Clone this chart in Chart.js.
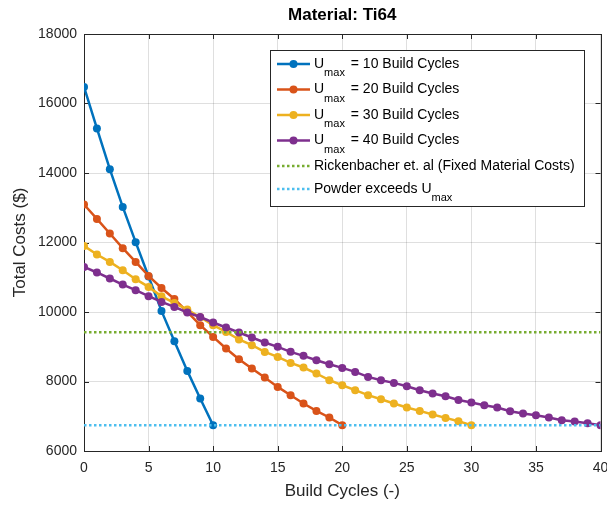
<!DOCTYPE html>
<html>
<head>
<meta charset="utf-8">
<script src="https://cdn.jsdelivr.net/npm/chart.js@4.4.0/dist/chart.umd.min.js"></script>
<style>
  html, body { margin: 0; padding: 0; background: #fff; }
  #wrap { width: 607px; height: 506px; position: relative; }
</style>
</head>
<body>
<div id="wrap"><canvas id="costChart"></canvas></div>
<script>
// Material: Ti64 - total costs vs build cycles

const chartTitle = 'Material: Ti64';
const xTitle = 'Build Cycles (-)';
const yTitle = 'Total Costs ($)';

const xTicks = [0, 5, 10, 15, 20, 25, 30, 35, 40];
const yTicks = [6000, 8000, 10000, 12000, 14000, 16000, 18000];

// legend labels, {..} marks a subscript
const seriesLabels = [
    'U{max} = 10 Build Cycles',
    'U{max} = 20 Build Cycles',
    'U{max} = 30 Build Cycles',
    'U{max} = 40 Build Cycles',
    'Rickenbacher et. al (Fixed Material Costs)',
    'Powder exceeds U{max}'
];

const costs10 = [16478, 15281, 14109, 13024, 12009, 11022, 10032, 9160, 8305, 7511, 6743];
const costs20 = [13094, 12679, 12259, 11836, 11442, 11039, 10690, 10374, 10003, 9620,
    9283, 8950, 8642, 8374, 8115, 7845, 7606, 7367, 7154, 6964, 6743];
const costs30 = [11902, 11655, 11442, 11203, 10944, 10722, 10450, 10260, 10070, 9850,
    9620, 9427, 9209, 9045, 8852, 8708, 8535, 8403, 8230, 8037,
    7893, 7750, 7606, 7491, 7367, 7252, 7154, 7050, 6953, 6858, 6743];
const costs40 = [11298, 11137, 10964, 10791, 10627, 10455, 10291, 10147, 9986, 9855,
    9698, 9554, 9410, 9266, 9122, 8998, 8854, 8739, 8613, 8498,
    8391, 8276, 8132, 8037, 7960, 7865, 7750, 7655, 7577, 7470,
    7396, 7318, 7252, 7146, 7079, 7030, 6964, 6886, 6850, 6800, 6743];

const fixedMaterialCost = 9420;
const powderLimitCost = 6743;
const lineRange = [0, 40];

const colors = ['#0072BD', '#D95319', '#EDB120', '#7E2F8E', '#77AC30', '#4DBEEE'];
const axisColor = '#262626';
const fontFamily = '"Liberation Sans", Arial, sans-serif';

function toPoints(arr) {
    return arr.map((v, i) => ({ x: i, y: v }));
}

function markerSeries(label, data, color, order) {
    return {
        label,
        data: toPoints(data),
        borderColor: color,
        backgroundColor: color,
        borderWidth: 2.5,
        pointRadius: 4,
        pointHoverRadius: 4,
        pointBorderWidth: 0,
        tension: 0,
        order
    };
}

function refLine(label, value, color, order) {
    return {
        label,
        data: lineRange.map(x => ({ x, y: value })),
        borderColor: color,
        borderWidth: 2.5,
        borderDash: [2.5, 2.5],
        pointRadius: 0,
        order,
        isRef: true
    };
}

// box, inward ticks, title and legend drawn the MATLAB way
const matlabFrame = {
    id: 'matlabFrame',
    beforeDatasetsDraw(chart) {
        const { ctx, chartArea: a, scales } = chart;
        ctx.save();
        ctx.strokeStyle = axisColor;
        ctx.lineWidth = 1;
        ctx.beginPath();
        xTicks.forEach(t => {
            const px = Math.round(scales.x.getPixelForValue(t)) + 0.5;
            ctx.moveTo(px, a.bottom); ctx.lineTo(px, a.bottom - 5);
            ctx.moveTo(px, a.top); ctx.lineTo(px, a.top + 5);
        });
        yTicks.forEach(t => {
            const py = Math.round(scales.y.getPixelForValue(t)) + 0.5;
            ctx.moveTo(a.left, py); ctx.lineTo(a.left + 5, py);
            ctx.moveTo(a.right, py); ctx.lineTo(a.right - 5, py);
        });
        ctx.stroke();
        ctx.strokeRect(Math.round(a.left) + 0.5, Math.round(a.top) + 0.5,
            Math.round(a.right - a.left), Math.round(a.bottom - a.top));
        ctx.restore();
    },
    afterDraw(chart) {
        const { ctx, chartArea: a } = chart;
        ctx.save();
        // title
        ctx.fillStyle = '#000';
        ctx.font = 'bold 17px ' + fontFamily;
        ctx.textAlign = 'center';
        ctx.textBaseline = 'middle';
        ctx.fillText(chartTitle, (a.left + a.right) / 2, 15);

        // legend
        const box = { x: 270.5, y: 50.5, w: 314, h: 156 };
        ctx.fillStyle = '#fff';
        ctx.fillRect(box.x, box.y, box.w, box.h);
        ctx.strokeStyle = axisColor;
        ctx.lineWidth = 1;
        ctx.strokeRect(box.x, box.y, box.w, box.h);

        const rowY = [64, 89.5, 115, 140.5, 166, 189];
        chart.data.datasets.forEach((ds, i) => {
            const y = rowY[i];
            const x0 = 277, x1 = 310;
            ctx.strokeStyle = ds.borderColor;
            ctx.lineWidth = 2.5;
            ctx.setLineDash(ds.borderDash || []);
            ctx.beginPath();
            ctx.moveTo(x0, y); ctx.lineTo(x1, y);
            ctx.stroke();
            ctx.setLineDash([]);
            if (!ds.isRef) {
                ctx.fillStyle = ds.backgroundColor;
                ctx.beginPath();
                ctx.arc((x0 + x1) / 2, y, 4, 0, Math.PI * 2);
                ctx.fill();
            }
            // text with subscript
            const m = ds.label.match(/^(.*?)\{(.*?)\}(.*)$/);
            const parts = m ? [[m[1], 0], [m[2], 1], [m[3], 0]] : [[ds.label, 0]];
            let tx = 314;
            ctx.fillStyle = '#000';
            ctx.textAlign = 'left';
            ctx.textBaseline = 'middle';
            parts.forEach(([txt, sub]) => {
                if (!txt) return;
                ctx.font = (sub ? '11px ' : '14px ') + fontFamily;
                ctx.fillText(txt, tx, sub ? y + 9 : y);
                tx += ctx.measureText(txt).width + (sub ? 2 : 0);
            });
        });
        ctx.restore();
    }
};

new Chart(document.getElementById('costChart'), {
    type: 'line',
    data: {
        datasets: [
            markerSeries(seriesLabels[0], costs10, colors[0], 6),
            markerSeries(seriesLabels[1], costs20, colors[1], 5),
            markerSeries(seriesLabels[2], costs30, colors[2], 4),
            markerSeries(seriesLabels[3], costs40, colors[3], 3),
            refLine(seriesLabels[4], fixedMaterialCost, colors[4], 2),
            refLine(seriesLabels[5], powderLimitCost, colors[5], 1)
        ]
    },
    options: {
        responsive: true,
        maintainAspectRatio: false,
        animation: false,
        layout: { padding: { top: 34, right: 6.5, left: 0, bottom: 0 } },
        plugins: {
            legend: { display: false },
            title: { display: false },
            tooltip: { enabled: false }
        },
        scales: {
            x: {
                type: 'linear',
                min: 0,
                max: 40,
                afterFit(scale) {
                    scale.height = 55;
                    scale.paddingLeft = 0;
                    scale.paddingRight = 0;
                },
                afterBuildTicks(scale) { scale.ticks = xTicks.map(v => ({ value: v })); },
                grid: { color: 'rgba(38,38,38,0.15)', drawTicks: false },
                border: { display: false },
                ticks: {
                    color: axisColor,
                    padding: 9,
                    callback: v => String(v),
                    font: { size: 14, family: fontFamily }
                },
                title: {
                    display: true,
                    text: xTitle,
                    color: axisColor,
                    padding: { top: 3 },
                    font: { size: 17, family: fontFamily }
                }
            },
            y: {
                min: 6000,
                max: 18000,
                afterFit(scale) {
                    scale.width = 84;
                    scale.paddingTop = 0;
                    scale.paddingBottom = 0;
                },
                afterBuildTicks(scale) { scale.ticks = yTicks.map(v => ({ value: v })); },
                grid: { color: 'rgba(38,38,38,0.15)', drawTicks: false },
                border: { display: false },
                ticks: {
                    color: axisColor,
                    padding: 7,
                    callback: v => String(v),
                    font: { size: 14, family: fontFamily }
                },
                title: {
                    display: true,
                    text: yTitle,
                    color: axisColor,
                    padding: { top: 10, bottom: 0 },
                    font: { size: 17, family: fontFamily }
                }
            }
        }
    },
    plugins: [matlabFrame]
});
</script>
</body>
</html>
